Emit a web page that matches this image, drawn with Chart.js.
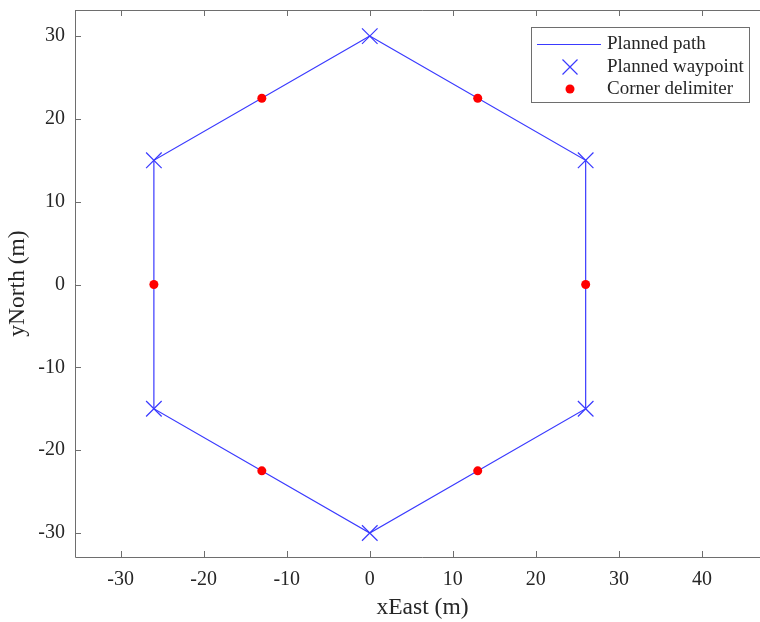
<!DOCTYPE html>
<html>
<head>
<meta charset="utf-8">
<script src="https://cdn.jsdelivr.net/npm/chart.js@4/dist/chart.umd.min.js"></script>
<style>
  html, body { margin: 0; padding: 0; background: #fff; overflow: hidden; width: 760px; height: 622px; }
  canvas { display: block; }
</style>
</head>
<body>
<canvas id="pathChart" width="770" height="622"></canvas>
<script>
// planned hexagon path (closed)
const pathX = [0, 26, 26, 0, -26, -26, 0];
const pathY = [30, 15, -15, -30, -15, 15, 30];
// waypoints
const wpX = [0, 26, 26, 0, -26, -26];
const wpY = [30, 15, -15, -30, -15, 15];
// corner delimiters
const cornerX = [13, 26, 13, -13, -26, -13];
const cornerY = [22.5, 0, -22.5, -22.5, 0, 22.5];
// ticks
const xTicks = [-30, -20, -10, 0, 10, 20, 30, 40];
const yTicks = [-30, -20, -10, 0, 10, 20, 30];
const legendLabels = ['Planned path', 'Planned waypoint', 'Corner delimiter'];

const lineBlue = '#3a3aff';
const axisColor = '#6e6e6e';
const textColor = '#262626';
const fontFamily = '"Liberation Serif", "Times New Roman", serif';
const toPts = (xs, ys) => xs.map((x, i) => ({ x: x, y: ys[i] }));

// inward tick marks + box lines (right side falls outside the window)
const boxPlugin = {
  id: 'box',
  afterDraw(chart) {
    const { ctx, chartArea: a, scales } = chart;
    ctx.save();
    ctx.strokeStyle = axisColor;
    ctx.lineWidth = 1;
    ctx.beginPath();
    ctx.moveTo(a.left + 0.5, a.top + 0.5);
    ctx.lineTo(a.right, a.top + 0.5);
    ctx.moveTo(a.left + 0.5, a.top);
    ctx.lineTo(a.left + 0.5, a.bottom + 0.5);
    ctx.lineTo(a.right, a.bottom + 0.5);
    xTicks.forEach(v => {
      const px = Math.round(scales.x.getPixelForValue(v)) + 0.5;
      ctx.moveTo(px, a.bottom); ctx.lineTo(px, a.bottom - 6);
      ctx.moveTo(px, a.top); ctx.lineTo(px, a.top + 6);
    });
    yTicks.forEach(v => {
      const py = Math.round(scales.y.getPixelForValue(v)) + 0.5;
      ctx.moveTo(a.left, py); ctx.lineTo(a.left + 6, py);
    });
    ctx.stroke();

    // legend
    const lx = 531, ly = 27, lw = 218, lh = 75;
    ctx.fillStyle = '#fff';
    ctx.fillRect(lx, ly, lw, lh);
    ctx.strokeStyle = axisColor;
    ctx.strokeRect(lx + 0.5, ly + 0.5, lw, lh);
    ctx.font = '19px ' + fontFamily;
    ctx.fillStyle = textColor;
    ctx.textBaseline = 'middle';
    const rows = [44, 67, 89];
    legendLabels.forEach((t, i) => ctx.fillText(t, 607, rows[i]));
    ctx.strokeStyle = lineBlue;
    ctx.lineWidth = 1.2;
    ctx.beginPath();
    ctx.moveTo(537, rows[0] + 0.5); ctx.lineTo(601, rows[0] + 0.5);
    const c = 570, r = 7.5;
    ctx.moveTo(c - r, rows[1] - r); ctx.lineTo(c + r, rows[1] + r);
    ctx.moveTo(c - r, rows[1] + r); ctx.lineTo(c + r, rows[1] - r);
    ctx.stroke();
    ctx.fillStyle = '#ff0000';
    ctx.beginPath();
    ctx.arc(c, rows[2], 4.5, 0, Math.PI * 2);
    ctx.fill();
    ctx.restore();
  }
};

new Chart(document.getElementById('pathChart'), {
  type: 'scatter',
  data: {
    datasets: [
      {
        label: legendLabels[0],
        data: toPts(pathX, pathY),
        showLine: true,
        borderColor: lineBlue,
        borderWidth: 1.2,
        pointRadius: 0,
        order: 3
      },
      {
        label: legendLabels[1],
        data: toPts(wpX, wpY),
        pointStyle: 'crossRot',
        pointRadius: 11,
        borderColor: lineBlue,
        pointBorderColor: lineBlue,
        backgroundColor: lineBlue,
        pointBorderWidth: 1.2,
        order: 2
      },
      {
        label: legendLabels[2],
        data: toPts(cornerX, cornerY),
        pointStyle: 'circle',
        pointRadius: 4.5,
        backgroundColor: '#ff0000',
        pointBackgroundColor: '#ff0000',
        pointBorderWidth: 0,
        order: 1
      }
    ]
  },
  options: {
    responsive: false,
    animation: false,
    events: [],
    layout: { autoPadding: false, padding: { top: 10, right: 0, left: 0, bottom: 0 } },
    plugins: { legend: { display: false }, tooltip: { enabled: false } },
    scales: {
      x: {
        type: 'linear',
        min: -35.5,
        max: 48.2,
        afterBuildTicks: s => { s.ticks = xTicks.map(v => ({ value: v })); },
        afterFit: s => { s.height = 65; s.paddingLeft = 0; s.paddingRight = 0; },
        grid: { display: false, drawTicks: false },
        border: { display: false },
        ticks: { color: textColor, padding: 11, font: { family: fontFamily, size: 20 } },
        title: { display: true, text: 'xEast (m)', color: textColor, padding: { top: 6, bottom: 0 }, font: { family: fontFamily, size: 23.5 } }
      },
      y: {
        type: 'linear',
        min: -32.9,
        max: 33.15,
        afterBuildTicks: s => { s.ticks = yTicks.map(v => ({ value: v })); },
        afterFit: s => { s.width = 75; s.paddingTop = 0; s.paddingBottom = 0; },
        grid: { display: false, drawTicks: false },
        border: { display: false },
        ticks: { color: textColor, padding: 10, font: { family: fontFamily, size: 20 } },
        title: { display: true, text: 'yNorth (m)', color: textColor, padding: { bottom: 2 }, font: { family: fontFamily, size: 23.5 } }
      }
    }
  },
  plugins: [boxPlugin]
});
</script>
</body>
</html>
